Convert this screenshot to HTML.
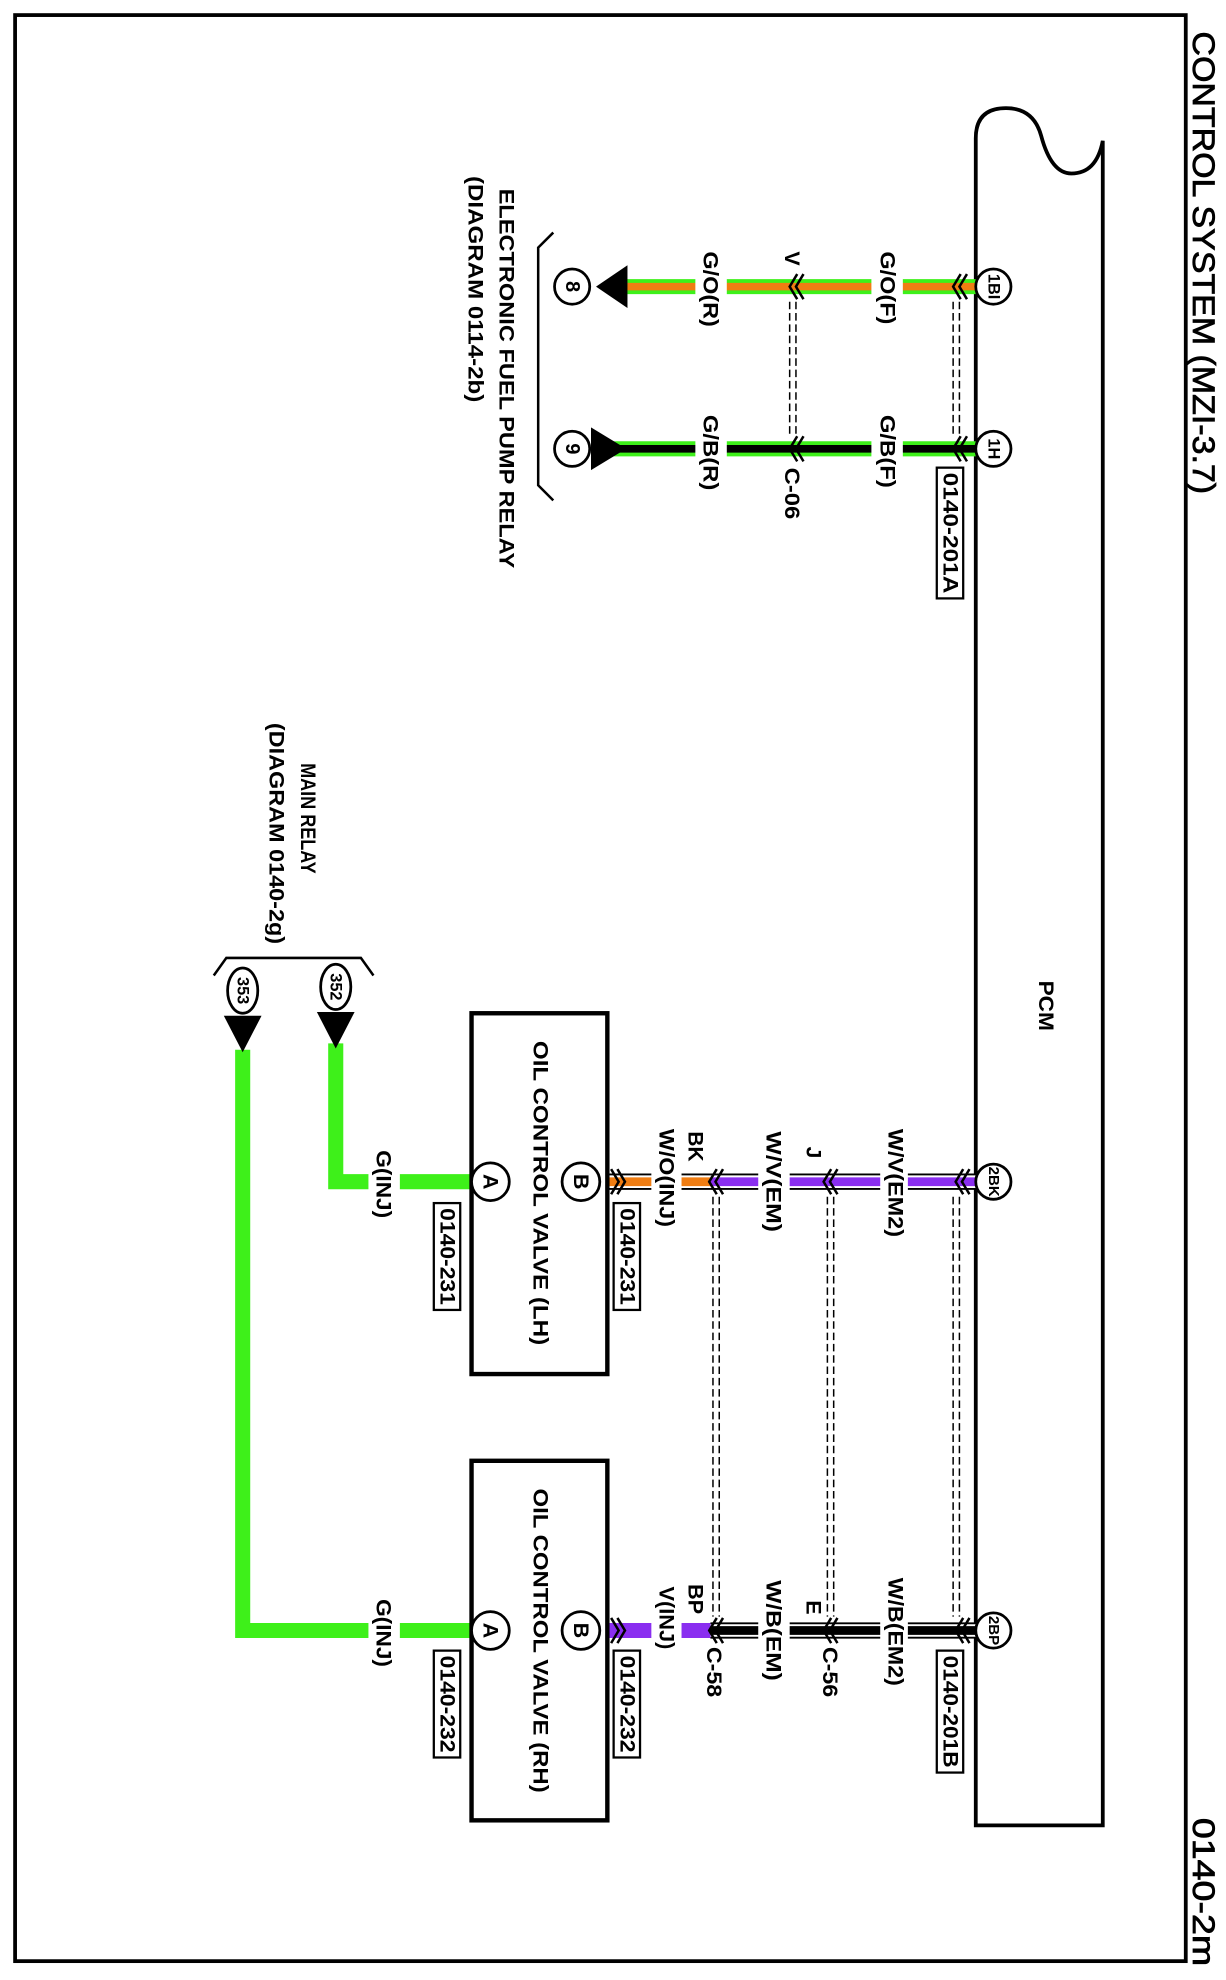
<!DOCTYPE html>
<html><head><meta charset="utf-8"><style>
html,body{margin:0;padding:0;background:#fff}
svg{display:block}
text{font-family:"Liberation Sans",Arial,sans-serif;fill:#000}
.t{font-size:17px;font-weight:bold}
.sh{fill:none;stroke:#000;stroke-width:1.2;stroke-dasharray:6 3}
.ch{fill:none;stroke:#000;stroke-width:2}
.pin{fill:#fff;stroke:#000;stroke-width:2.2}
.bx{fill:#fff;stroke:#000;stroke-width:1.8}
</style></head><body>
<svg width="1226" height="1980" viewBox="0 0 975 1575" preserveAspectRatio="none" xmlns="http://www.w3.org/2000/svg">
<rect x="12" y="12" width="931" height="1548" fill="none" stroke="#000" stroke-width="3"/>
<text transform="translate(957,25) rotate(90)" dominant-baseline="central" font-size="25" stroke="#000" stroke-width="0.6" textLength="368" lengthAdjust="spacingAndGlyphs">CONTROL SYSTEM (MZI-3.7)</text>
<text transform="translate(957,1446) rotate(90)" dominant-baseline="central" font-size="25" stroke="#000" stroke-width="0.6" textLength="118" lengthAdjust="spacingAndGlyphs">0140-2m</text>

<path d="M776,1452 V110 Q776,86 800,86 Q822,86 828,108 Q836,138 852,138 Q872,138 877,112 V1452 Z" fill="none" stroke="#000" stroke-width="3"/>
<text class="t" transform="translate(832,780) rotate(90)" dominant-baseline="central" textLength="40" lengthAdjust="spacingAndGlyphs">PCM</text>

<line class="sh" x1="758" y1="240" x2="758" y2="346"/><line class="sh" x1="763" y1="240" x2="763" y2="346"/>
<line class="sh" x1="628" y1="240" x2="628" y2="346"/><line class="sh" x1="633" y1="240" x2="633" y2="346"/>

<line x1="499" y1="228" x2="776" y2="228" stroke="#3ef01a" stroke-width="12"/>
<line x1="499" y1="228" x2="776" y2="228" stroke="#f07d12" stroke-width="6"/>
<line x1="470" y1="357" x2="776" y2="357" stroke="#3ef01a" stroke-width="12"/>
<line x1="470" y1="357" x2="776" y2="357" stroke="#000" stroke-width="6"/>
<rect x="693" y="215" width="25" height="26" fill="#fff"/><rect x="553" y="215" width="25" height="26" fill="#fff"/>
<rect x="693" y="344" width="25" height="26" fill="#fff"/><rect x="553" y="344" width="25" height="26" fill="#fff"/>
<g class="ch">
<polyline points="764,218 758,228 764,238"/><polyline points="769,218 763,228 769,238"/>
<polyline points="634,218 628,228 634,238"/><polyline points="639,218 633,228 639,238"/>
<polyline points="764,347 758,357 764,367"/><polyline points="769,347 763,357 769,367"/>
<polyline points="634,347 628,357 634,367"/><polyline points="639,347 633,357 639,367"/>
</g>
<polygon points="474,228 499,211 499,245" fill="#000"/>
<polygon points="498,357 470,340 470,374" fill="#000"/>
<circle class="pin" cx="790" cy="228" r="14"/><circle class="pin" cx="790" cy="357" r="14"/>
<circle class="pin" cx="455" cy="228" r="14"/><circle class="pin" cx="455" cy="357" r="14"/>
<g class="t" style="font-size:13px">
<text transform="translate(790,228) rotate(90)" dominant-baseline="central" text-anchor="middle">1BI</text>
<text transform="translate(790,357) rotate(90)" dominant-baseline="central" text-anchor="middle">1H</text>
</g>
<g class="t" style="font-size:16px">
<text transform="translate(455,228) rotate(90)" dominant-baseline="central" text-anchor="middle">8</text>
<text transform="translate(455,357) rotate(90)" dominant-baseline="central" text-anchor="middle">9</text>
</g>
<g class="t">
<text transform="translate(706,200) rotate(90)" dominant-baseline="central" textLength="58" lengthAdjust="spacingAndGlyphs">G/O(F)</text>
<text transform="translate(565,200) rotate(90)" dominant-baseline="central" textLength="60" lengthAdjust="spacingAndGlyphs">G/O(R)</text>
<text transform="translate(630,200) rotate(90)" dominant-baseline="central">V</text>
<text transform="translate(706,330) rotate(90)" dominant-baseline="central" textLength="58" lengthAdjust="spacingAndGlyphs">G/B(F)</text>
<text transform="translate(565,330) rotate(90)" dominant-baseline="central" textLength="60" lengthAdjust="spacingAndGlyphs">G/B(R)</text>
<text transform="translate(630,372) rotate(90)" dominant-baseline="central" textLength="41" lengthAdjust="spacingAndGlyphs">C-06</text>
</g>
<rect class="bx" x="745" y="372" width="21" height="104"/>
<text class="t" transform="translate(756,376) rotate(90)" dominant-baseline="central" textLength="96" lengthAdjust="spacingAndGlyphs">0140-201A</text>
<path d="M440,185 L428,197 L428,386 L440,398" fill="none" stroke="#000" stroke-width="2"/>
<text class="t" transform="translate(403,150) rotate(90)" dominant-baseline="central" textLength="302" lengthAdjust="spacingAndGlyphs">ELECTRONIC FUEL PUMP RELAY</text>
<text class="t" transform="translate(378,140) rotate(90)" dominant-baseline="central" textLength="180" lengthAdjust="spacingAndGlyphs">(DIAGRAM 0114-2b)</text>

<text class="t" transform="translate(245,607) rotate(90)" dominant-baseline="central" textLength="88" lengthAdjust="spacingAndGlyphs">MAIN RELAY</text>
<text class="t" transform="translate(220,575) rotate(90)" dominant-baseline="central" textLength="176" lengthAdjust="spacingAndGlyphs">(DIAGRAM 0140-2g)</text>
<path d="M170,776 L180,762 L287,762 L297,776" fill="none" stroke="#000" stroke-width="2"/>
<polyline points="267,830 267,940 375,940" fill="none" stroke="#3ef01a" stroke-width="12"/>
<polyline points="193,835 193,1297 375,1297" fill="none" stroke="#3ef01a" stroke-width="12"/>
<rect x="293" y="928" width="25" height="24" fill="#fff"/><rect x="293" y="1285" width="25" height="24" fill="#fff"/>
<polygon points="252,805 282,805 267,834" fill="#000"/>
<polygon points="178,808 208,808 193,837" fill="#000"/>
<ellipse class="pin" cx="267" cy="785" rx="12" ry="18"/><ellipse class="pin" cx="193" cy="788" rx="12" ry="18"/>
<g class="t" style="font-size:13px">
<text transform="translate(267,785) rotate(90)" dominant-baseline="central" text-anchor="middle">352</text>
<text transform="translate(193,788) rotate(90)" dominant-baseline="central" text-anchor="middle">353</text>
</g>

<g>
<line class="sh" x1="758" y1="952" x2="758" y2="1286"/><line class="sh" x1="763" y1="952" x2="763" y2="1286"/>
<line class="sh" x1="658" y1="952" x2="658" y2="1286"/><line class="sh" x1="663" y1="952" x2="663" y2="1286"/>
<line class="sh" x1="567" y1="952" x2="567" y2="1286"/><line class="sh" x1="572" y1="952" x2="572" y2="1286"/>
</g>
<line x1="565" y1="940" x2="776" y2="940" stroke="#000" stroke-width="13"/>
<line x1="565" y1="940" x2="776" y2="940" stroke="#fff" stroke-width="10"/>
<line x1="565" y1="940" x2="776" y2="940" stroke="#8a2ef0" stroke-width="7"/>
<line x1="483" y1="940" x2="565" y2="940" stroke="#000" stroke-width="13"/>
<line x1="483" y1="940" x2="565" y2="940" stroke="#fff" stroke-width="10"/>
<line x1="483" y1="940" x2="565" y2="940" stroke="#f07d12" stroke-width="7"/>
<line x1="375" y1="940" x2="385" y2="940" stroke="#3ef01a" stroke-width="12"/>
<rect x="700" y="926" width="22" height="28" fill="#fff"/><rect x="603" y="926" width="25" height="28" fill="#fff"/><rect x="518" y="926" width="24" height="28" fill="#fff"/>
<line x1="565" y1="1297" x2="776" y2="1297" stroke="#000" stroke-width="13"/>
<line x1="565" y1="1297" x2="776" y2="1297" stroke="#fff" stroke-width="10"/>
<line x1="565" y1="1297" x2="776" y2="1297" stroke="#000" stroke-width="7"/>
<line x1="483" y1="1297" x2="565" y2="1297" stroke="#8a2ef0" stroke-width="12"/>
<rect x="700" y="1283" width="22" height="28" fill="#fff"/><rect x="603" y="1283" width="25" height="28" fill="#fff"/><rect x="518" y="1283" width="24" height="28" fill="#fff"/>
<g class="ch">
<polyline points="766,930 760,940 766,950"/><polyline points="771,930 765,940 771,950"/>
<polyline points="661,930 655,940 661,950"/><polyline points="666,930 660,940 666,950"/>
<polyline points="570,930 564,940 570,950"/><polyline points="575,930 569,940 575,950"/>
<polyline points="486,930 492,940 486,950"/><polyline points="491,930 497,940 491,950"/>
<polyline points="382,930 376,940 382,950"/><polyline points="387,930 381,940 387,950"/>
<polyline points="766,1287 760,1297 766,1307"/><polyline points="771,1287 765,1297 771,1307"/>
<polyline points="661,1287 655,1297 661,1307"/><polyline points="666,1287 660,1297 666,1307"/>
<polyline points="570,1287 564,1297 570,1307"/><polyline points="575,1287 569,1297 575,1307"/>
<polyline points="486,1287 492,1297 486,1307"/><polyline points="491,1287 497,1297 491,1307"/>
<polyline points="382,1287 376,1297 382,1307"/><polyline points="387,1287 381,1297 387,1307"/>
</g>
<rect x="375" y="806" width="108" height="287" fill="none" stroke="#000" stroke-width="3.5"/>
<rect x="375" y="1162" width="108" height="286" fill="none" stroke="#000" stroke-width="3.5"/>
<text class="t" transform="translate(430,828) rotate(90)" dominant-baseline="central" textLength="242" lengthAdjust="spacingAndGlyphs">OIL CONTROL VALVE (LH)</text>
<text class="t" transform="translate(430,1184) rotate(90)" dominant-baseline="central" textLength="242" lengthAdjust="spacingAndGlyphs">OIL CONTROL VALVE (RH)</text>
<circle class="pin" cx="790" cy="940" r="14"/><circle class="pin" cx="790" cy="1297" r="14"/>
<circle class="pin" cx="462" cy="940" r="15"/><circle class="pin" cx="390" cy="940" r="15"/>
<circle class="pin" cx="462" cy="1297" r="15"/><circle class="pin" cx="390" cy="1297" r="15"/>
<g class="t" style="font-size:12px">
<text transform="translate(790,940) rotate(90)" dominant-baseline="central" text-anchor="middle">2BK</text>
<text transform="translate(790,1297) rotate(90)" dominant-baseline="central" text-anchor="middle">2BP</text>
</g>
<g class="t" style="font-size:17px">
<text transform="translate(462,940) rotate(90)" dominant-baseline="central" text-anchor="middle">B</text>
<text transform="translate(390,940) rotate(90)" dominant-baseline="central" text-anchor="middle">A</text>
<text transform="translate(462,1297) rotate(90)" dominant-baseline="central" text-anchor="middle">B</text>
<text transform="translate(390,1297) rotate(90)" dominant-baseline="central" text-anchor="middle">A</text>
</g>
<g class="t">
<text transform="translate(712,898) rotate(90)" dominant-baseline="central" textLength="86" lengthAdjust="spacingAndGlyphs">W/V(EM2)</text>
<text transform="translate(647,912) rotate(90)" dominant-baseline="central">J</text>
<text transform="translate(615,900) rotate(90)" dominant-baseline="central" textLength="80" lengthAdjust="spacingAndGlyphs">W/V(EM)</text>
<text transform="translate(553,900) rotate(90)" dominant-baseline="central" textLength="24" lengthAdjust="spacingAndGlyphs">BK</text>
<text transform="translate(530,898) rotate(90)" dominant-baseline="central" textLength="78" lengthAdjust="spacingAndGlyphs">W/O(INJ)</text>
<text transform="translate(305,915) rotate(90)" dominant-baseline="central" textLength="54" lengthAdjust="spacingAndGlyphs">G(INJ)</text>
<text transform="translate(712,1255) rotate(90)" dominant-baseline="central" textLength="86" lengthAdjust="spacingAndGlyphs">W/B(EM2)</text>
<text transform="translate(647,1273) rotate(90)" dominant-baseline="central">E</text>
<text transform="translate(615,1257) rotate(90)" dominant-baseline="central" textLength="80" lengthAdjust="spacingAndGlyphs">W/B(EM)</text>
<text transform="translate(553,1260) rotate(90)" dominant-baseline="central" textLength="24" lengthAdjust="spacingAndGlyphs">BP</text>
<text transform="translate(530,1262) rotate(90)" dominant-baseline="central" textLength="50" lengthAdjust="spacingAndGlyphs">V(INJ)</text>
<text transform="translate(660,1310) rotate(90)" dominant-baseline="central" textLength="40" lengthAdjust="spacingAndGlyphs">C-56</text>
<text transform="translate(568,1310) rotate(90)" dominant-baseline="central" textLength="40" lengthAdjust="spacingAndGlyphs">C-58</text>
<text transform="translate(305,1272) rotate(90)" dominant-baseline="central" textLength="54" lengthAdjust="spacingAndGlyphs">G(INJ)</text>
</g>
<rect class="bx" x="488" y="957" width="21" height="85"/><rect class="bx" x="345" y="957" width="21" height="85"/>
<rect class="bx" x="488" y="1313" width="21" height="85"/><rect class="bx" x="345" y="1313" width="21" height="85"/>
<rect class="bx" x="745" y="1313" width="21" height="97"/>
<g class="t">
<text transform="translate(499,961) rotate(90)" dominant-baseline="central" textLength="77" lengthAdjust="spacingAndGlyphs">0140-231</text>
<text transform="translate(356,961) rotate(90)" dominant-baseline="central" textLength="77" lengthAdjust="spacingAndGlyphs">0140-231</text>
<text transform="translate(499,1317) rotate(90)" dominant-baseline="central" textLength="77" lengthAdjust="spacingAndGlyphs">0140-232</text>
<text transform="translate(356,1317) rotate(90)" dominant-baseline="central" textLength="77" lengthAdjust="spacingAndGlyphs">0140-232</text>
<text transform="translate(756,1317) rotate(90)" dominant-baseline="central" textLength="89" lengthAdjust="spacingAndGlyphs">0140-201B</text>
</g>
</svg>
</body></html>
